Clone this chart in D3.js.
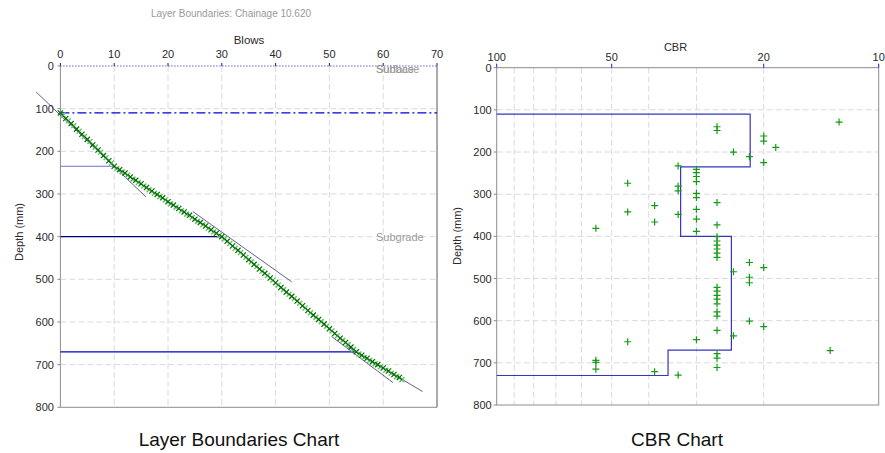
<!DOCTYPE html>
<html>
<head>
<meta charset="utf-8">
<script src="https://cdn.jsdelivr.net/npm/d3@7"></script>
<style>
  body { margin: 0; background: #fff; }
  svg { display: block; font-family: "Liberation Sans", Arial, sans-serif; }
</style>
</head>
<body>
<svg id="chart" width="885" height="453"></svg>
<script>
// ---- DCP test: cumulative blows against penetration depth ----
const blows = [0, 1, 2, 3, 4, 5, 6, 7, 8, 9, 10,
  11, 12, 13, 14, 15, 16, 17, 18, 19, 20, 21, 22, 23, 24, 25, 26, 27, 28, 29, 30,
  31, 32, 33, 34, 35, 36, 37, 38, 39, 40, 41, 42, 43, 44, 45, 46, 47, 48, 49, 50,
  51, 52, 53, 54, 55, 56, 57, 58, 59, 60, 61, 62, 63];
const depths = [110, 123, 135, 148, 160, 172, 185, 197, 210, 222, 235,
  243, 251, 260, 268, 276, 285, 293, 301, 309, 318, 326, 334, 342, 350, 359, 367, 375, 384, 392, 400,
  411, 422, 432, 443, 454, 465, 476, 486, 497, 508, 519, 530, 540, 551, 562, 573, 584, 594, 605, 616,
  627, 638, 648, 659, 670, 678, 685, 693, 700, 708, 715, 723, 730];

// starting reading and detected layer boundaries
const zeroReadingDepth = 110;
const boundaryDepths = [235, 400, 670];
const boundaryBlows = [10, 30, 55];
const boundaryColors = ["#7070d0", "#00007a", "#0000c0"];

// per-layer trend lines: [blows, depth] end points
const trendStarts = [[-4.5, 61], [24.6, 341], [50.4, 634], [53.0, 655]];
const trendEnds = [[15.9, 307], [43.0, 506], [61.8, 742], [67.3, 763]];

// layer names placed at their depth
const layerNames = ["Surface", "Subbase", "Subgrade"];
const layerNameDepths = [0, 0, 400];

// ---- CBR profile ----
const layerTops = [110, 235, 400, 670];
const layerBottoms = [235, 400, 670, 730];
const layerCbr = [21.7, 33.0, 24.3, 35.6];

const cbrValues = [12.7, 26.5, 26.5, 20, 20, 18.6, 24, 21.8, 20, 33.5,
  30, 30, 30, 30, 45.4, 33.5, 33.5, 30, 30, 26.5, 38.6, 30, 45.4, 33.5, 30, 38.6, 26.5, 55, 30,
  26.5, 26.5, 26.5, 26.5, 26.5, 26.5, 21.8, 20, 24, 21.8, 21.8,
  26.5, 26.5, 26.5, 26.5, 26.5, 26.5, 26.5, 21.8, 20, 26.5, 24, 30, 45.4, 13.4,
  26.5, 26.5, 55, 55, 26.5, 55, 38.6, 33.5];
const cbrDepths = [129, 140, 149, 162, 174, 189, 200, 211, 225, 233,
  241, 249, 258, 270, 274, 281, 292, 298, 308, 320, 327, 336, 342, 348, 359, 366, 373, 381, 388,
  401, 411, 421, 430, 440, 450, 462, 474, 484, 497, 510,
  521, 530, 540, 549, 560, 579, 589, 601, 614, 623, 636, 645, 650, 671,
  678, 689, 694, 699, 711, 715, 721, 729];

// ---- ticks ----
const blowTicks = [0, 10, 20, 30, 40, 50, 60, 70];
const blowGrid = [10, 20, 30, 40, 50, 60];
const depthTicks = [0, 100, 200, 300, 400, 500, 600, 700, 800];
const depthGrid = [100, 200, 300, 400, 500, 600, 700];
const cbrTicks = [100, 50, 20, 10];
const cbrGrid = [90, 80, 70, 60, 50, 40, 30, 20];

const svg = d3.select("#chart");
const gridColor = "#dadada";
const frameColor = "#8c8c8c";
const labelColor = "#2a2a2a";

svg.append("text")
  .attr("x", 231).attr("y", 17)
  .attr("text-anchor", "middle")
  .attr("font-size", 10).attr("fill", "#9a9a9a")
  .text("Layer Boundaries: Chainage 10.620");

// ================= Layer boundaries chart =================
const xB = d3.scaleLinear().domain([0, 70]).range([60.4, 437]);
const yB = d3.scaleLinear().domain([0, 800]).range([66, 407.3]);
const gB = svg.append("g");

gB.selectAll(".vg").data(blowGrid).join("line")
  .attr("x1", d => xB(d)).attr("x2", d => xB(d))
  .attr("y1", yB(0)).attr("y2", yB(800))
  .attr("stroke", gridColor).attr("stroke-dasharray", "6,3");
gB.selectAll(".hg").data(depthGrid).join("line")
  .attr("x1", xB(0)).attr("x2", xB(70))
  .attr("y1", d => yB(d)).attr("y2", d => yB(d))
  .attr("stroke", gridColor).attr("stroke-dasharray", "6,3");

// frame
gB.append("line").attr("x1", xB(0)).attr("x2", xB(0)).attr("y1", yB(0)).attr("y2", yB(800))
  .attr("stroke", frameColor);
gB.append("line").attr("x1", xB(0)).attr("x2", xB(70)).attr("y1", yB(800)).attr("y2", yB(800))
  .attr("stroke", frameColor);
gB.append("line").attr("x1", xB(70)).attr("x2", xB(70)).attr("y1", yB(0)).attr("y2", yB(800))
  .attr("stroke", "#555");

// surface (dotted) and starting reading (dash-dot)
gB.append("line").attr("x1", xB(0)).attr("x2", xB(70)).attr("y1", yB(0)).attr("y2", yB(0))
  .attr("stroke", "#1a1ab0").attr("stroke-dasharray", "1,2");
gB.append("line").attr("x1", xB(0)).attr("x2", xB(70))
  .attr("y1", yB(zeroReadingDepth)).attr("y2", yB(zeroReadingDepth))
  .attr("stroke", "#0000e0").attr("stroke-width", 1.2).attr("stroke-dasharray", "9,3,2,3");

// layer boundary lines
gB.selectAll(".bnd").data(boundaryDepths).join("line")
  .attr("x1", xB(0)).attr("x2", (d, i) => xB(boundaryBlows[i]))
  .attr("y1", d => yB(d)).attr("y2", d => yB(d))
  .attr("stroke", (d, i) => boundaryColors[i]).attr("stroke-width", 1.1);

// layer names
gB.selectAll(".lname").data(layerNames).join("text")
  .attr("x", xB(70) - 61)
  .attr("y", (d, i) => yB(layerNameDepths[i]) + (layerNameDepths[i] === 0 ? 7 : 4))
  .attr("font-size", 11).attr("fill", "#9a9a9a")
  .text(d => d);

// trend lines
gB.selectAll(".trend").data(trendStarts).join("line")
  .attr("x1", d => xB(d[0])).attr("y1", d => yB(d[1]))
  .attr("x2", (d, i) => xB(trendEnds[i][0])).attr("y2", (d, i) => yB(trendEnds[i][1]))
  .attr("stroke", "#4e4e86").attr("stroke-width", 0.9);

// blow readings
const pts = blows.map((b, i) => [b, depths[i]]);
gB.append("path")
  .attr("d", d3.line().x(d => xB(d[0])).y(d => yB(d[1]))(pts))
  .attr("fill", "none").attr("stroke", "#0a0a3a").attr("stroke-width", 1);
const xMark = s => `M${-s},${-s}L${s},${s}M${-s},${s}L${s},${-s}`;
gB.selectAll(".shadowMark").data(pts).join("path")
  .attr("transform", d => `translate(${xB(d[0]) + 2.6},${yB(d[1]) + 2.2})`)
  .attr("d", xMark(2.5)).attr("stroke", "#72c072").attr("stroke-width", 1.5).attr("fill", "none");
gB.selectAll(".mark").data(pts).join("path")
  .attr("transform", d => `translate(${xB(d[0])},${yB(d[1])})`)
  .attr("d", xMark(2.6)).attr("stroke", "#006e00").attr("stroke-width", 1.2).attr("fill", "none");

// top axis ticks + labels
gB.selectAll(".bt").data(blowTicks).join("line")
  .attr("x1", d => xB(d)).attr("x2", d => xB(d))
  .attr("y1", yB(0) - 3).attr("y2", yB(0))
  .attr("stroke", "#1a1a80");
gB.selectAll(".btl").data(blowTicks).join("text")
  .attr("x", d => xB(d)).attr("y", 58)
  .attr("text-anchor", "middle").attr("font-size", 11).attr("fill", labelColor)
  .text(d => d);
gB.append("text").attr("x", 249).attr("y", 44)
  .attr("text-anchor", "middle").attr("font-size", 11.5).attr("fill", labelColor)
  .text("Blows");

// depth axis
gB.selectAll(".dt").data(depthTicks).join("line")
  .attr("x1", xB(0) - 3).attr("x2", xB(0))
  .attr("y1", d => yB(d)).attr("y2", d => yB(d))
  .attr("stroke", frameColor);
gB.selectAll(".dtl").data(depthTicks).join("text")
  .attr("x", xB(0) - 6.5).attr("y", d => yB(d) + 4)
  .attr("text-anchor", "end").attr("font-size", 11).attr("fill", labelColor)
  .text(d => d);
gB.append("text")
  .attr("transform", "translate(23,232) rotate(-90)")
  .attr("text-anchor", "middle").attr("font-size", 11).attr("fill", labelColor)
  .text("Depth (mm)");

svg.append("text").attr("x", 239).attr("y", 446)
  .attr("text-anchor", "middle").attr("font-size", 19).attr("fill", "#111")
  .text("Layer Boundaries Chart");

// ================= CBR chart =================
const xC = d3.scaleLog().domain([100, 10]).range([496.7, 878.7]);
const yC = d3.scaleLinear().domain([0, 800]).range([67.7, 405]);
const gC = svg.append("g");

gC.selectAll(".vg").data(cbrGrid).join("line")
  .attr("x1", d => xC(d)).attr("x2", d => xC(d))
  .attr("y1", yC(0)).attr("y2", yC(800))
  .attr("stroke", gridColor).attr("stroke-dasharray", "6,3");
gC.selectAll(".hg").data(depthGrid).join("line")
  .attr("x1", xC(100)).attr("x2", xC(10))
  .attr("y1", d => yC(d)).attr("y2", d => yC(d))
  .attr("stroke", gridColor).attr("stroke-dasharray", "6,3");

gC.append("rect")
  .attr("x", xC(100)).attr("y", yC(0))
  .attr("width", xC(10) - xC(100)).attr("height", yC(800) - yC(0))
  .attr("fill", "none").attr("stroke", frameColor);

// layer CBR step profile
const steps = [[100, layerTops[0]]];
layerCbr.forEach((c, i) => { steps.push([c, layerTops[i]], [c, layerBottoms[i]]); });
steps.push([100, layerBottoms[layerBottoms.length - 1]]);
gC.append("path")
  .attr("d", d3.line().x(d => xC(d[0])).y(d => yC(d[1]))(steps))
  .attr("fill", "none").attr("stroke", "#3535c0").attr("stroke-width", 1.2);

// CBR per reading
const plusMark = s => `M${-s},0L${s},0M0,${-s}L0,${s}`;
gC.selectAll(".cm").data(cbrValues).join("path")
  .attr("transform", (d, i) => `translate(${xC(d)},${yC(cbrDepths[i])})`)
  .attr("d", plusMark(3.5)).attr("stroke", "#159a15").attr("stroke-width", 1.2).attr("fill", "none");

// top axis
gC.selectAll(".ct").data(cbrTicks).join("line")
  .attr("x1", d => xC(d)).attr("x2", d => xC(d))
  .attr("y1", yC(0) - 4).attr("y2", yC(0))
  .attr("stroke", "#2020c0");
gC.selectAll(".ctl").data(cbrTicks).join("text")
  .attr("x", d => xC(d)).attr("y", 60.5)
  .attr("text-anchor", "middle").attr("font-size", 11).attr("fill", labelColor)
  .text(d => d);
gC.append("text").attr("x", 675.5).attr("y", 51)
  .attr("text-anchor", "middle").attr("font-size", 11).attr("fill", labelColor)
  .text("CBR");

// depth axis
gC.selectAll(".dt").data(depthTicks).join("line")
  .attr("x1", xC(100) - 3).attr("x2", xC(100))
  .attr("y1", d => yC(d)).attr("y2", d => yC(d))
  .attr("stroke", frameColor);
gC.selectAll(".dtl").data(depthTicks).join("text")
  .attr("x", xC(100) - 5).attr("y", d => yC(d) + 4)
  .attr("text-anchor", "end").attr("font-size", 11).attr("fill", labelColor)
  .text(d => d);
gC.append("text")
  .attr("transform", "translate(461,236) rotate(-90)")
  .attr("text-anchor", "middle").attr("font-size", 11).attr("fill", labelColor)
  .text("Depth (mm)");

svg.append("text").attr("x", 677).attr("y", 446)
  .attr("text-anchor", "middle").attr("font-size", 19).attr("fill", "#111")
  .text("CBR Chart");
</script>
</body>
</html>
